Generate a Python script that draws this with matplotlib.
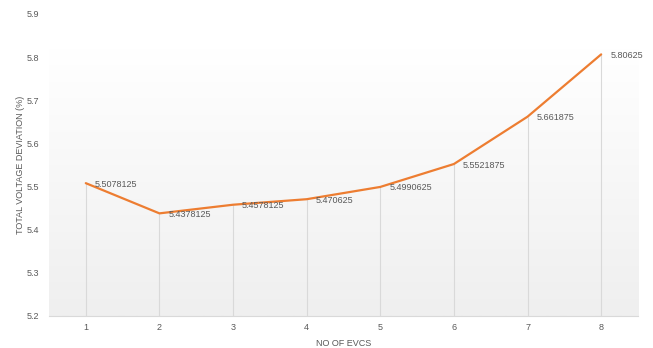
import numpy as np
import matplotlib as mpl
import matplotlib.pyplot as plt
mpl.use('Agg')

# data
evcs = [1, 2, 3, 4, 5, 6, 7, 8]
deviation = [5.5078125, 5.4378125, 5.4578125, 5.470625, 5.4990625, 5.5521875, 5.661875, 5.80625]
labels = ['5.5078125', '5.4378125', '5.4578125', '5.470625', '5.4990625', '5.5521875', '5.661875', '5.80625']
yticks = [5.2, 5.3, 5.4, 5.5, 5.6, 5.7, 5.8, 5.9]

plt.rcParams['font.family'] = ['Liberation Sans', 'DejaVu Sans']
txt = '#595959'

fig = plt.figure(figsize=(6.53, 3.48), dpi=100)
ax = fig.add_axes([0.075, 0.092, 0.902, 0.868])

# gradient plot area fill (white at top -> light gray at bottom)
grad = np.linspace(1.0, 0.0, 256).reshape(-1, 1)
cmap = mpl.colors.LinearSegmentedColormap.from_list('g', ['#efefef', '#ffffff'])
ax.imshow(grad, extent=[0.5, 8.5, 5.2, 5.82], aspect='auto', cmap=cmap,
          origin='upper', zorder=0, vmin=0, vmax=1)

# drop lines
ax.vlines(evcs, 5.2, deviation, color='#d9d9d9', lw=0.8, zorder=1)

ax.plot(evcs, deviation, color='#ED7D31', lw=1.6, zorder=3, solid_capstyle='round')

for x, y, s in zip(evcs, deviation, labels):
    ax.annotate(s, (x, y), xytext=(9, -1), textcoords='offset pixels',
                ha='left', va='center', fontsize=6.5, color=txt)

ax.set_xlim(0.5, 8.5)
ax.set_ylim(5.2, 5.9)
ax.set_xticks(evcs)
ax.set_yticks(yticks)
ax.set_yticklabels([f'{v:.1f}' for v in yticks])
ax.tick_params(length=0, labelsize=6.5, labelcolor=txt)
ax.tick_params(axis='x', pad=5)
ax.tick_params(axis='y', pad=7)
for s in ['top', 'right', 'left']:
    ax.spines[s].set_visible(False)
ax.spines['bottom'].set_color('#d9d9d9')
ax.spines['bottom'].set_linewidth(0.8)
ax.set_facecolor('white')

ax.set_xlabel('NO OF EVCS', fontsize=6.5, color=txt, labelpad=5)
ax.set_ylabel('TOTAL VOLTAGE DEVIATION (%)', fontsize=6.5, color=txt, labelpad=1)

plt.savefig('out.png', dpi=100)
